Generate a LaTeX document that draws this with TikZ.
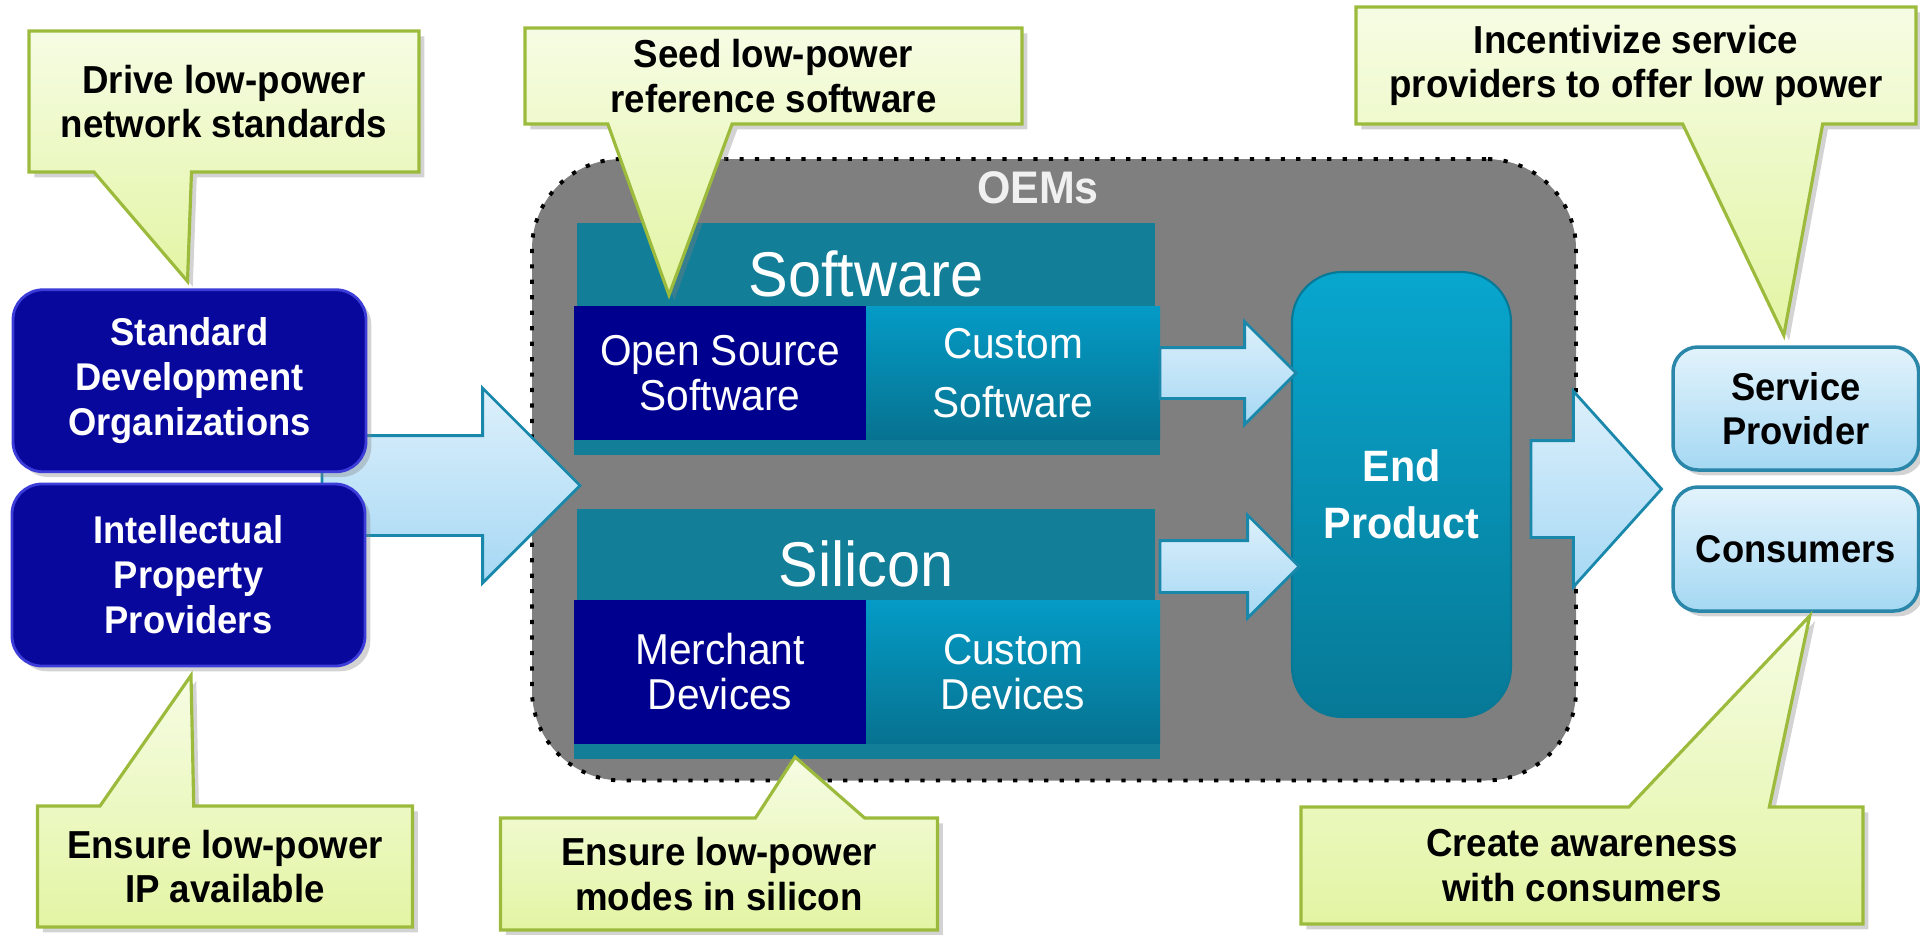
\documentclass[tikz,border=0pt]{standalone}
\usepackage{fontspec}
\setmainfont{Liberation Sans}[FakeStretch=0.94]
\usepackage{tikz}
\usetikzlibrary{calc,positioning,shapes.arrows,shadows}

\definecolor{noteTop}{HTML}{F6FCE4}
\definecolor{noteBot}{HTML}{E3F5A4}
\definecolor{noteLine}{HTML}{9CBA3C}
\definecolor{orgBlue}{HTML}{08089C}
\definecolor{orgRim}{HTML}{3C3CD8}
\definecolor{bandTeal}{HTML}{127E98}
\definecolor{navy}{HTML}{00008E}
\definecolor{custTop}{HTML}{049BC6}
\definecolor{custBot}{HTML}{077290}
\definecolor{endTop}{HTML}{08A6CE}
\definecolor{endBot}{HTML}{077996}
\definecolor{arrTop}{HTML}{DDF0FB}
\definecolor{arrBot}{HTML}{A6D8F4}
\definecolor{arrLine}{HTML}{1A88AA}
\definecolor{userTop}{HTML}{E2F3FC}
\definecolor{userBot}{HTML}{A5D8F3}
\definecolor{userLine}{HTML}{2B87A9}
\definecolor{oemGray}{HTML}{7F7F7F}
\definecolor{oemText}{HTML}{F0F0F0}

\pgfdeclarelayer{notes}
\pgfdeclarelayer{notetop}
\pgfsetlayers{main,notes,notetop}

\tikzset{
    softshadow/.style={drop shadow={opacity=0.35, shadow xshift=1.5pt, shadow yshift=-1.5pt}},
    notetext/.style={inner sep=0pt, outer sep=0pt, align=center,
        font=\fontsize{11.1}{12.6}\selectfont\bfseries},
    notebox/.style={draw=noteLine, line width=0.9pt, top color=noteTop, bottom color=noteBot, softshadow},
    orgbox/.style={rectangle, rounded corners=0.3cm, fill=orgBlue, draw=orgRim, line width=0.8pt,
        minimum width=3.53cm, minimum height=1.82cm, text=white, align=center,
        font=\fontsize{11}{12.8}\selectfont\bfseries, softshadow},
    oembox/.style={rectangle, rounded corners=0.9cm, fill=oemGray, draw=black, line width=1.1pt,
        dash pattern=on 1.2pt off 3.2pt, minimum width=10.44cm, minimum height=6.215cm},
    band/.style={rectangle, fill=bandTeal, minimum width=5.78cm, inner sep=0pt, outer sep=0pt,
        text height=0.64cm, text=white, font=\fontsize{18}{20}\selectfont, softshadow},
    navybox/.style={rectangle, fill=navy, minimum width=2.92cm, inner sep=0pt, outer sep=0pt,
        text=white, align=center, font=\fontsize{12.3}{12.8}\selectfont, softshadow},
    custbox/.style={rectangle, top color=custTop, bottom color=custBot, minimum width=2.94cm,
        inner sep=0pt, outer sep=0pt, text=white, align=center,
        font=\fontsize{12.3}{12.8}\selectfont, softshadow},
    strip/.style={rectangle, fill=bandTeal, minimum width=5.86cm, minimum height=0.15cm,
        inner sep=0pt, outer sep=0pt, softshadow},
    endbox/.style={rectangle, rounded corners=0.5cm, top color=endTop, bottom color=endBot,
        draw=endBot, line width=0.6pt, minimum width=2.19cm, minimum height=4.45cm,
        text=white, align=center, font=\fontsize{12.5}{16.2}\selectfont\bfseries, softshadow},
    userbox/.style={rectangle, rounded corners=0.25cm, top color=userTop, bottom color=userBot,
        draw=userLine, line width=1pt, minimum width=2.456cm, minimum height=1.23cm,
        align=center, font=\fontsize{11}{12.5}\selectfont\bfseries, softshadow},
    fatarrow/.style={single arrow, anchor=tail, draw=arrLine, line width=0.8pt,
        top color=arrTop, bottom color=arrBot, inner xsep=0pt, outer sep=0pt}
}

\begin{document}
\begin{tikzpicture}
    \useasboundingbox (0,0) rectangle (19.2,9.34);

    % OEM group
    \node[oembox] (oem) at (10.54, 4.6425) {};
    \node[font=\fontsize{13}{15}\selectfont\bfseries, text=oemText] (oemlbl) at (10.38, 7.46) {OEMs};

    % input arrow
    \node[fatarrow, inner ysep=0.485cm, minimum height=2.58cm, minimum width=1.92cm, single arrow head extend=0.475cm] (feed) at (3.22, 4.485) {};

    \node[orgbox] (sdo) at (1.895, 5.5325) {Standard\\Development\\Organizations};
    \node[orgbox] (ipp) at (1.885, 3.59) {Intellectual\\Property\\Providers};

    % software stack
    \node[band, minimum height=0.83cm] (swband) at (8.66, 6.695) {Software};
    \node[navybox, minimum height=1.34cm] (oss) at (7.20, 5.61) {Open Source\\Software};
    \node[custbox, minimum height=1.34cm, font=\fontsize{12.3}{16.8}\selectfont] (csw) at (10.13, 5.61) {Custom\\Software};
    \node[strip] (swstrip) at (8.67, 4.865) {};

    % silicon stack
    \node[band, minimum height=0.91cm] (siband) at (8.66, 3.795) {Silicon};
    \node[navybox, minimum height=1.44cm] (merch) at (7.20, 2.62) {Merchant\\Devices};
    \node[custbox, minimum height=1.44cm] (cdev) at (10.13, 2.62) {Custom\\Devices};
    \node[strip] (sistrip) at (8.67, 1.825) {};

    \node[endbox] (endp) at (14.015, 4.395) {End\\Product};

    \node[fatarrow, inner ysep=0.24cm, minimum height=1.36cm, minimum width=1.0cm, single arrow head extend=0.26cm] (swarrow) at (csw.east) {};
    \node[fatarrow, inner ysep=0.245cm, minimum height=1.39cm, minimum width=1.0cm, single arrow head extend=0.255cm] (siarrow) at (11.60, 3.675) {};

    % output arrow
    \node[fatarrow, inner ysep=0.47cm, minimum height=1.305cm, minimum width=1.93cm, single arrow head extend=0.495cm, single arrow tip angle=96] (out) at (15.31, 4.45) {};

    \node[userbox] (svc) at (17.958, 5.255) {Service\\Provider};
    \node[userbox, minimum height=1.24cm] (cons) at (17.958, 3.85) {Consumers};

    % callouts
    \begin{pgfonlayer}{notetop}
        \node[notetext, minimum width=3.90cm, minimum height=1.41cm] (n1) at (2.24, 8.325) {Drive low-power\\network standards};
        \node[notetext, minimum width=4.97cm, minimum height=0.96cm] (n2) at (7.735, 8.58) {Seed low-power\\reference software};
        \node[notetext, minimum width=5.60cm, minimum height=1.17cm] (n3) at (16.36, 8.685) {Incentivize service\\providers to offer low power};
        \node[notetext, minimum width=3.75cm, minimum height=1.21cm] (n4) at (2.25, 0.675) {Ensure low-power\\IP available};
        \node[notetext, minimum width=4.37cm, minimum height=1.12cm] (n5) at (7.19, 0.60) {Ensure low-power\\modes in silicon};
        \node[notetext, minimum width=5.62cm, minimum height=1.17cm] (n6) at (15.82, 0.685) {Create awareness\\with consumers};
    \end{pgfonlayer}

    \begin{pgfonlayer}{notes}
        \draw[notebox] (n1.north west) -- (n1.north east) -- (n1.south east) -- ($(n1.south west)!5/12!(n1.south east)$) -- ($(sdo.north)+(-0.02,0.07)$) -- ($(n1.south west)!2/12!(n1.south east)$) -- (n1.south west) -- cycle;
        \draw[notebox] (n2.north west) -- (n2.north east) -- (n2.south east) -- ($(n2.south west)!5/12!(n2.south east)$) -- ($(oss.north west)+(0.95,0.11)$) -- ($(n2.south west)!2/12!(n2.south east)$) -- (n2.south west) -- cycle;
        \draw[notebox] (n3.north west) -- (n3.north east) -- (n3.south east) -- ($(n3.south west)!10/12!(n3.south east)$) -- ($(svc.north)+(-0.12,0.10)$) -- ($(n3.south west)!7/12!(n3.south east)$) -- (n3.south west) -- cycle;
        \draw[notebox] (n4.south west) -- (n4.south east) -- (n4.north east) -- ($(n4.north west)!5/12!(n4.north east)$) -- ($(ipp.south)+(0.025,-0.08)$) -- ($(n4.north west)!2/12!(n4.north east)$) -- (n4.north west) -- cycle;
        \draw[notebox] (n5.south west) -- (n5.south east) -- (n5.north east) -- ($(n5.north west)!10/12!(n5.north east)$) -- ($(sistrip.south west)+(2.21,0.02)$) -- ($(n5.north west)!7/12!(n5.north east)$) -- (n5.north west) -- cycle;
        \draw[notebox] (n6.south west) -- (n6.south east) -- (n6.north east) -- ($(n6.north west)!10/12!(n6.north east)$) -- ($(cons.south)+(0.14,-0.03)$) -- ($(n6.north west)!7/12!(n6.north east)$) -- (n6.north west) -- cycle;
    \end{pgfonlayer}
\end{tikzpicture}
\end{document}
